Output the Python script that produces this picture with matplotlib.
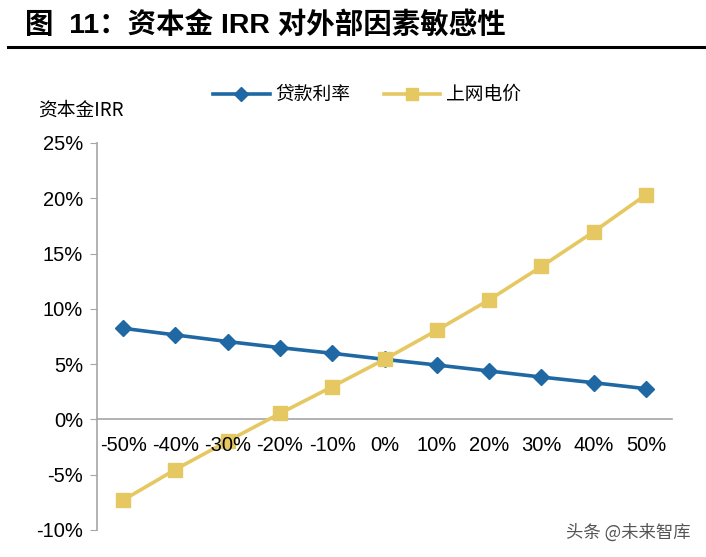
import matplotlib
matplotlib.use("Agg")
import matplotlib.pyplot as plt
from matplotlib.lines import Line2D

plt.rcParams['font.family'] = ['Liberation Sans', 'Noto Sans CJK SC', 'DejaVu Sans']

# datos
cambios = ["-50%", "-40%", "-30%", "-20%", "-10%", "0%", "10%", "20%", "30%", "40%", "50%"]
tasa_prestamo = [8.24, 7.64, 7.04, 6.49, 5.98, 5.43, 4.92, 4.38, 3.83, 3.32, 2.78]
precio_red = [-7.30, -4.53, -1.96, 0.54, 2.96, 5.43, 8.06, 10.81, 13.83, 16.97, 20.32]
yticks = [-10, -5, 0, 5, 10, 15, 20, 25]

azul = '#1F68A3'
amarillo = '#E6C863'
gris = '#A6A6A6'

fig = plt.figure(figsize=(7.06, 5.57), dpi=100)
ax = fig.add_axes([0.1374, 0.0485, 0.8146, 0.6948])

x = list(range(len(cambios)))
ax.plot(x, tasa_prestamo, color=azul, lw=2.6, marker='D', ms=8.5, label='贷款利率')
ax.plot(x, precio_red, color=amarillo, lw=2.6, marker='s', ms=10, label='上网电价')

ax.set_xlim(-0.5, len(cambios) - 0.5)
ax.set_ylim(-10, 25)
ax.set_yticks(yticks)
ax.set_yticklabels([f"{v}%" for v in yticks])
ax.set_xticks(x)
ax.set_xticklabels(cambios)
ax.set_axisbelow(False)  # etiquetas encima de los marcadores

for s in ['top', 'right']:
    ax.spines[s].set_visible(False)
ax.spines['bottom'].set_position(('data', 0))
ax.spines['bottom'].set_color(gris)
ax.spines['left'].set_color(gris)
ax.spines['bottom'].set_linewidth(1.2)
ax.spines['left'].set_linewidth(1.2)
ax.spines['bottom'].set_zorder(1)
ax.tick_params(axis='y', direction='out', length=5, color=gris, pad=5, labelsize=14.5)
ax.tick_params(axis='x', length=0, pad=12, labelsize=14.5)

# titulo y linea
fig.text(0.035, 0.955, "图  11：资本金 IRR 对外部因素敏感性", fontsize=20.5, fontweight='bold',
         va='center', ha='left')
fig.add_artist(Line2D([0.012, 1.0], [0.916, 0.916], color='black', lw=2.2, transform=fig.transFigure))

fig.text(0.054, 0.803, "资本金IRR", fontsize=13.5, va='center', ha='left',
         family=['Noto Sans CJK SC', 'DejaVu Sans'])

fig.legend(loc='center', bbox_to_anchor=(0.52, 0.83), ncol=2, frameon=False,
           prop={'family': ['Noto Sans CJK SC', 'DejaVu Sans'], 'size': 13.5},
           handlelength=3.0, columnspacing=1.8, handletextpad=0.3, markerscale=0.8)

fig.text(0.978, 0.043, "头条 @未来智库", fontsize=12.5, color='#555555', ha='right', va='center',
         family=['Noto Sans CJK SC', 'DejaVu Sans'])

fig.savefig("out.png", dpi=100)
